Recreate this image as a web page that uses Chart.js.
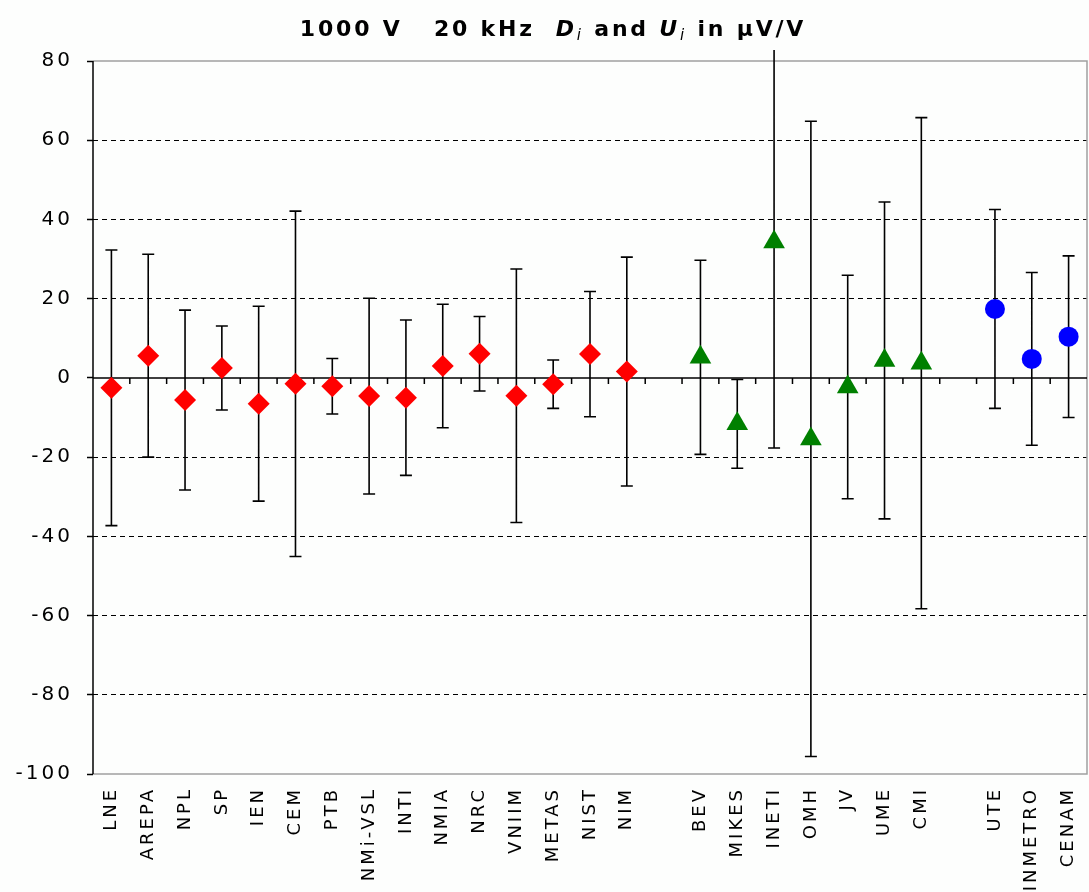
<!DOCTYPE html>
<html>
<head>
<meta charset="utf-8">
<script src="https://cdn.jsdelivr.net/npm/chart.js@4"></script>
<style>
  html, body { margin: 0; padding: 0; background: #fdfefd; }
  canvas { display: block; }
</style>
</head>
<body>
<canvas id="chart" width="1089" height="892"></canvas>
<script>
// x slots, blank ones are the gaps between the groups
const labels = ["LNE", "AREPA", "NPL", "SP", "IEN", "CEM", "PTB", "NMi-VSL", "INTI", "NMIA",
  "NRC", "VNIIM", "METAS", "NIST", "NIM", "", "BEV", "MIKES", "INETI", "OMH", "JV", "UME",
  "CMI", "", "UTE", "INMETRO", "CENAM"];

// D_i and U_i in µV/V
const redLabs = ["LNE", "AREPA", "NPL", "SP", "IEN", "CEM", "PTB", "NMi-VSL", "INTI", "NMIA",
  "NRC", "VNIIM", "METAS", "NIST", "NIM"];
const redD = [-2.5, 5.6, -5.6, 2.5, -6.5, -1.5, -2.1, -4.6, -5.0, 3.0, 6.1, -4.5, -1.6, 6.0, 1.6];
const redU = [34.8, 25.6, 22.7, 10.6, 24.6, 43.6, 7.0, 24.7, 19.6, 15.6, 9.4, 32.0, 6.1, 15.8, 28.9];

const greenLabs = ["BEV", "MIKES", "INETI", "OMH", "JV", "UME", "CMI"];
const greenD = [5.2, -11.6, 34.3, -15.4, -2.3, 4.4, 3.7];
const greenU = [24.5, 11.2, 52.0, 80.2, 28.2, 40.0, 62.0];

const blueLabs = ["UTE", "INMETRO", "CENAM"];
const blueD = [17.4, 4.8, 10.4];
const blueU = [25.1, 21.8, 20.4];

const yTicks = [80, 60, 40, 20, 0, -20, -40, -60, -80, -100];

// put a group's values into the 27 slots
function spread(names, vals) {
  const out = labels.map(() => null);
  names.forEach((n, i) => { out[labels.indexOf(n)] = vals[i]; });
  return out;
}

const FONT = "DejaVu Sans";

const spacing = {
  id: "spacing",
  beforeLayout(chart) { chart.ctx.letterSpacing = "3px"; },
  beforeDraw(chart) { chart.ctx.letterSpacing = "3px"; }
};

// zero line, frame and error bars, under the markers
const frameAndBars = {
  id: "frameAndBars",
  beforeDatasetsDraw(chart) {
    const ctx = chart.ctx;
    const a = chart.chartArea;
    const x = chart.scales.x;
    const y = chart.scales.y;
    ctx.save();

    // grey frame
    ctx.strokeStyle = "#a0a0a0";
    ctx.lineWidth = 1.5;
    ctx.beginPath();
    ctx.moveTo(a.left, a.top);
    ctx.lineTo(a.right, a.top);
    ctx.lineTo(a.right, a.bottom);
    ctx.lineTo(a.left, a.bottom);
    ctx.stroke();

    // left axis
    ctx.strokeStyle = "#000";
    ctx.lineWidth = 1.5;
    ctx.beginPath();
    ctx.moveTo(a.left, a.top);
    ctx.lineTo(a.left, a.bottom);
    ctx.stroke();

    // zero line with ticks between slots
    const y0 = y.getPixelForValue(0);
    ctx.beginPath();
    ctx.moveTo(a.left, y0);
    ctx.lineTo(a.right, y0);
    for (let i = 1; i < labels.length; i++) {
      const bx = (x.getPixelForValue(i - 1) + x.getPixelForValue(i)) / 2;
      ctx.moveTo(bx, y0);
      ctx.lineTo(bx, y0 + 6);
    }
    ctx.stroke();

    // error bars, clipped a little above the plot
    ctx.beginPath();
    ctx.rect(0, a.top - 11, chart.width, chart.height);
    ctx.clip();
    ctx.lineWidth = 1.6;
    ctx.beginPath();
    chart.data.datasets.forEach((ds, di) => {
      const meta = chart.getDatasetMeta(di);
      ds.data.forEach((d, i) => {
        if (d === null) return;
        const u = ds.unc[i];
        const px = meta.data[i].x;
        const top = y.getPixelForValue(d + u);
        const bot = y.getPixelForValue(d - u);
        ctx.moveTo(px, top);
        ctx.lineTo(px, bot);
        if (d + u <= y.max) {
          ctx.moveTo(px - 6, top);
          ctx.lineTo(px + 6, top);
        }
        ctx.moveTo(px - 6, bot);
        ctx.lineTo(px + 6, bot);
      });
    });
    ctx.stroke();
    ctx.restore();
  }
};

// title with italic symbols and subscripts
const title = {
  id: "mixedTitle",
  afterDraw(chart) {
    const ctx = chart.ctx;
    const parts = [
      ["bold 22px " + FONT, "1000 V   20 kHz  ", 0],
      ["bold italic 22px " + FONT, "D", 0],
      ["italic 15px " + FONT, "i", 4],
      ["bold 22px " + FONT, " and ", 0],
      ["bold italic 22px " + FONT, "U", 0],
      ["italic 15px " + FONT, "i", 4],
      ["bold 22px " + FONT, " in µV/V", 0]
    ];
    ctx.save();
    ctx.letterSpacing = "2.8px";
    ctx.fillStyle = "#000";
    ctx.textBaseline = "alphabetic";
    let w = 0;
    parts.forEach(p => { ctx.font = p[0]; w += ctx.measureText(p[1]).width; });
    let cx = 553 - w / 2;
    parts.forEach(p => {
      ctx.font = p[0];
      ctx.fillText(p[1], cx, 36 + p[2]);
      cx += ctx.measureText(p[1]).width;
    });
    ctx.restore();
  }
};

function groupSet(names, d, u, color, style, r) {
  return {
    data: spread(names, d),
    unc: spread(names, u),
    showLine: false,
    pointStyle: style,
    pointRadius: r,
    pointHoverRadius: r,
    pointBackgroundColor: color,
    pointBorderColor: color,
    pointBorderWidth: 0
  };
}

new Chart(document.getElementById("chart"), {
  type: "line",
  data: {
    labels: labels,
    datasets: [
      groupSet(redLabs, redD, redU, "#ff0000", "rectRot", 11),
      groupSet(greenLabs, greenD, greenU, "#008000", "triangle", 12.5),
      groupSet(blueLabs, blueD, blueU, "#0000ff", "circle", 10)
    ]
  },
  options: {
    responsive: false,
    animation: false,
    events: [],
    layout: { autoPadding: false, padding: { top: 61, right: 2, left: 0, bottom: 0 } },
    plugins: { legend: { display: false }, tooltip: { enabled: false } },
    scales: {
      x: {
        offset: true,
        grid: { display: false, drawTicks: false },
        border: { display: false },
        ticks: {
          autoSkip: false,
          minRotation: 90,
          maxRotation: 90,
          padding: 13,
          color: "#000",
          font: { family: FONT, size: 18 }
        },
        afterFit(scale) {
          scale.height = 118;
          scale.paddingLeft = 0;
          scale.paddingRight = 0;
        }
      },
      y: {
        min: -100,
        max: 80,
        afterBuildTicks(scale) { scale.ticks = yTicks.map(v => ({ value: v })); },
        grid: {
          color: c => (c.tick && [0, 80, -100].includes(c.tick.value)) ? "rgba(0,0,0,0)" : "#000",
          lineWidth: 1,
          tickColor: "#000",
          tickLength: 6,
          tickWidth: 1.5
        },
        border: { display: false, dash: [5, 4] },
        ticks: {
          padding: 14,
          color: "#000",
          font: { family: FONT, size: 20 }
        },
        afterFit(scale) { scale.width = 93; }
      }
    }
  },
  plugins: [spacing, frameAndBars, title]
});
</script>
</body>
</html>
